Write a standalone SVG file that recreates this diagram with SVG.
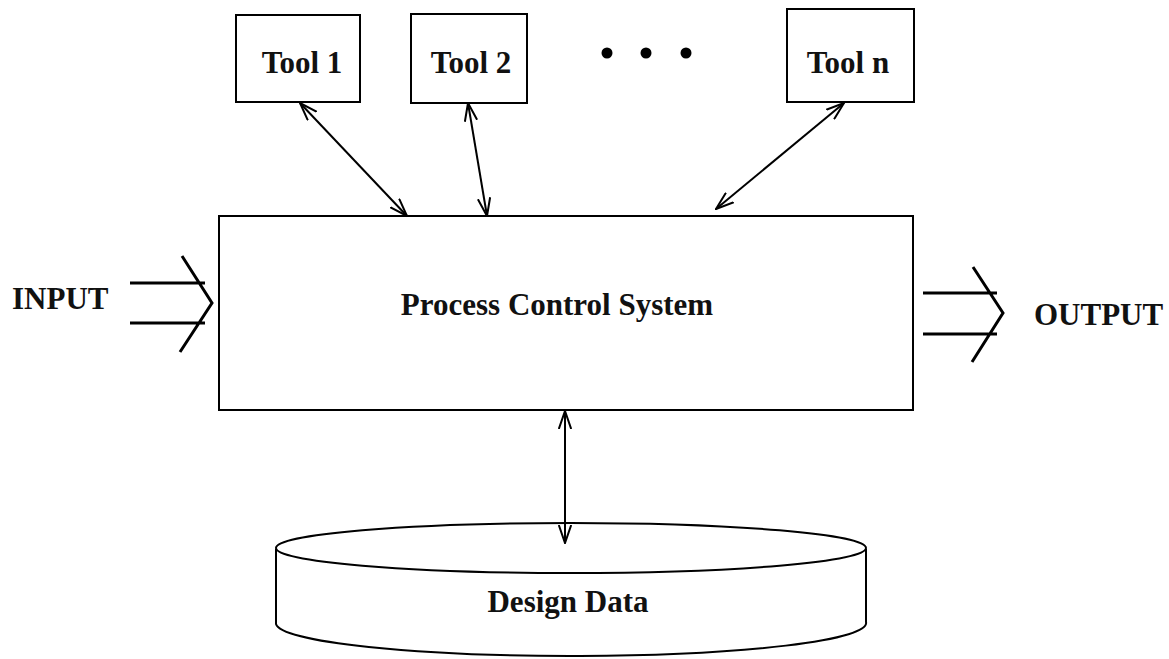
<svg xmlns="http://www.w3.org/2000/svg" width="1169" height="659" viewBox="0 0 1169 659">
  <style>
    .box { fill: #fff; stroke: #000; stroke-width: 2; }
    .lbl { font-family: "Liberation Serif", "Times New Roman", serif; font-weight: bold; font-size: 31px; fill: #111; }
    .link { fill: none; stroke: #000; stroke-width: 2; }
    .flow { fill: none; stroke: #000; stroke-width: 3; stroke-linejoin: miter; }
  </style>
  <defs>
    <marker id="openHead" viewBox="0 0 19 14" markerWidth="19" markerHeight="14" refX="18" refY="7" orient="auto-start-reverse" markerUnits="userSpaceOnUse">
      <path d="M0,0.8 L18,7 L0,13.2" fill="none" stroke="#000" stroke-width="2"/>
    </marker>
  </defs>
  <rect width="1169" height="659" fill="#fff"/>

  <!-- tool boxes -->
  <g id="tool1">
    <rect class="box" x="236" y="15" width="124" height="87"/>
    <text class="lbl" x="302" y="73" text-anchor="middle">Tool 1</text>
  </g>
  <g id="tool2">
    <rect class="box" x="411" y="14" width="116" height="89"/>
    <text class="lbl" x="471" y="73" text-anchor="middle">Tool 2</text>
  </g>
  <g id="ellipsis">
    <circle cx="607" cy="53" r="5.5" fill="#000"/>
    <circle cx="646" cy="53" r="5.5" fill="#000"/>
    <circle cx="686" cy="53" r="5.5" fill="#000"/>
  </g>
  <g id="tooln">
    <rect class="box" x="787" y="9" width="127" height="93"/>
    <text class="lbl" x="848" y="73" text-anchor="middle">Tool n</text>
  </g>

  <!-- central system -->
  <g id="process-control">
    <rect class="box" x="219" y="216" width="694" height="194"/>
    <text class="lbl" x="557" y="315" text-anchor="middle">Process Control System</text>
  </g>

  <!-- input / output -->
  <g id="input">
    <text class="lbl" x="12" y="309">INPUT</text>
    <path class="flow" d="M130,283 H205 M130,323 H205 M182,256 L212,303 L180,352"/>
  </g>
  <g id="output">
    <path class="flow" d="M923,293 H997 M923,334 H997 M973,267 L1003,313 L972,362"/>
    <text class="lbl" x="1034" y="325">OUTPUT</text>
  </g>

  <!-- data store -->
  <g id="design-data">
    <path class="box" d="M276,549 V624 A295,33 0 0 0 866,622 V549"/>
    <ellipse class="box" cx="571" cy="548" rx="295" ry="25"/>
    <text class="lbl" x="568" y="612" text-anchor="middle">Design Data</text>
  </g>

  <!-- connectors -->
  <g id="connectors">
    <line class="link" x1="300" y1="103" x2="407" y2="216" marker-start="url(#openHead)" marker-end="url(#openHead)"/>
    <line class="link" x1="468" y1="103" x2="487" y2="216" marker-start="url(#openHead)" marker-end="url(#openHead)"/>
    <line class="link" x1="844" y1="103" x2="716" y2="209" marker-start="url(#openHead)" marker-end="url(#openHead)"/>
    <line class="link" x1="565" y1="411" x2="565" y2="543" marker-start="url(#openHead)" marker-end="url(#openHead)"/>
  </g>
</svg>
